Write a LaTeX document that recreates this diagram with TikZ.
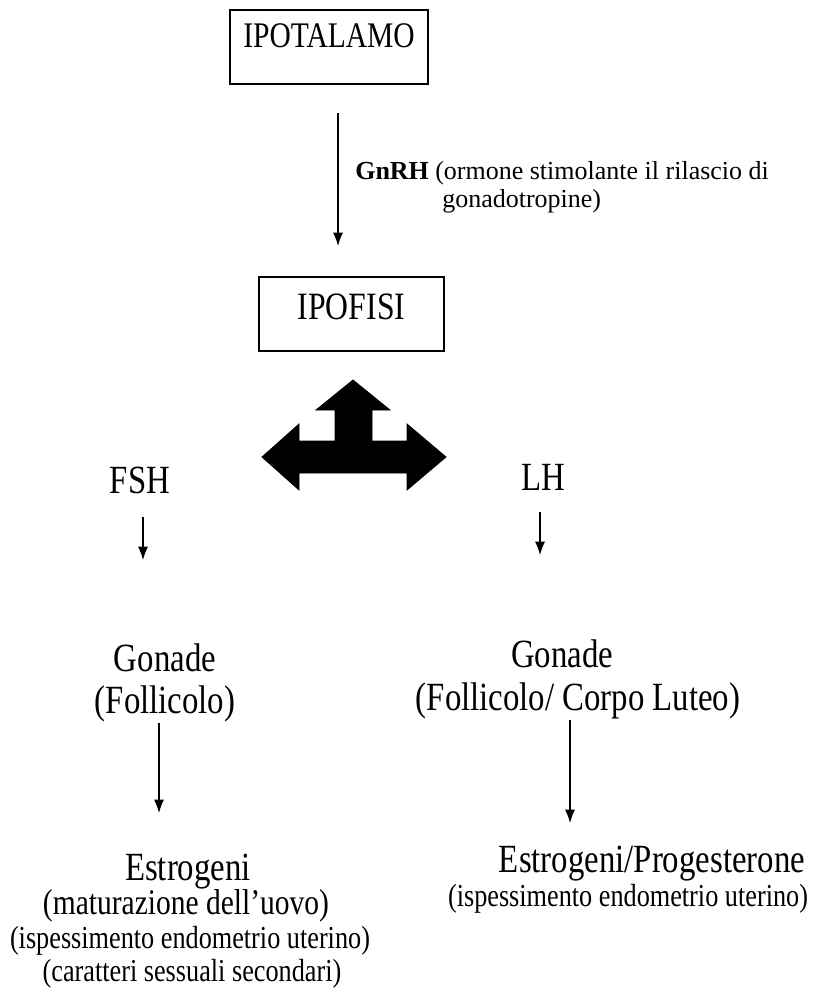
\documentclass[tikz,border=0pt]{standalone}
\usepackage{fontspec}
\setmainfont{Liberation Serif}
\newfontfamily\tallf[FakeStretch=0.82]{Liberation Serif}
\usetikzlibrary{arrows.meta}
\begin{document}
\begin{tikzpicture}[x=0.75pt,y=-0.75pt,
  boxnode/.style={draw, line width=1.3pt, inner sep=0pt, anchor=center},
  lbl/.style={anchor=base, inner sep=0pt},
  big/.style={lbl, font=\tallf\fontsize{30}{36}\selectfont},
  mid/.style={lbl, font=\tallf\fontsize{27}{32}\selectfont},
  small/.style={lbl, font=\tallf\fontsize{24}{28}\selectfont},
  note/.style={anchor=base west, inner sep=0pt, font=\fontsize{19.5}{23}\selectfont},
  arr/.style={line width=0.9pt, -{Latex[length=10pt,width=7.5pt]}},
  blockarrow/.style={fill=black, draw=black, line width=0.6pt, line join=miter}]
\useasboundingbox (0,0) rectangle (828,994);

% boxes
\node[boxnode, font=\tallf\fontsize{27}{31}\selectfont, minimum width=148.5pt,
  text height=28.5pt, text depth=27pt] (ipot) at (329,47) {IPOTALAMO};
\node[boxnode, font=\tallf\fontsize{29}{33}\selectfont, minimum width=138.75pt,
  text height=32.25pt, text depth=23.25pt] (ipof) at (351.5,314) {IPOFISI};

% GnRH arrow and label
\coordinate (g1) at (338,113);
\coordinate (g2) at (338,246);
\draw[arr] (g1) -- (g2);
\node[note] (gnrh) at (355,180) {\bfseries GnRH};
\node[note] (gnrh1) at (435,180) {(ormone stimolante il rilascio di};
\node[note] (gnrh2) at (442,208) {gonadotropine)};

% three-way block arrow
\draw[blockarrow] (353,380) -- (390,410) -- (372,410) -- (372,441) -- (407,441) -- (407,424)
  -- (446,457) -- (407,490) -- (407,473) -- (299,473) -- (299,490) -- (262,457)
  -- (299,424) -- (299,441) -- (335,441) -- (335,410) -- (316,410) -- cycle;

% hormones
\node[big] (fsh) at (140,493) {FSH};
\node[big] (lh) at (543,490) {LH};
\coordinate (f1) at (143,517);
\coordinate (f2) at (143,560);
\coordinate (l1) at (540,512);
\coordinate (l2) at (540,555);
\draw[arr] (f1) -- (f2);
\draw[arr] (l1) -- (l2);

% gonads
\node[big] (gonL) at (165,671) {Gonade};
\node[big] (follL) at (165,713) {(Follicolo)};
\node[big] (gonR) at (562,667) {Gonade};
\node[big] (follR) at (578,710) {(Follicolo/ Corpo Luteo)};
\coordinate (a1) at (159,723);
\coordinate (a2) at (159,813);
\coordinate (b1) at (570,720);
\coordinate (b2) at (570,823);
\draw[arr] (a1) -- (a2);
\draw[arr] (b1) -- (b2);

% outcomes
\node[big] (estL) at (188,880) {Estrogeni};
\node[mid] (matL) at (186,914) {(maturazione dell’uovo)};
\node[small] (ispL) at (190,948) {(ispessimento endometrio uterino)};
\node[small] (carL) at (192,981) {(caratteri sessuali secondari)};
\node[big] (estR) at (652,872) {Estrogeni/Progesterone};
\node[small] (ispR) at (628,906) {(ispessimento endometrio uterino)};
\end{tikzpicture}
\end{document}
